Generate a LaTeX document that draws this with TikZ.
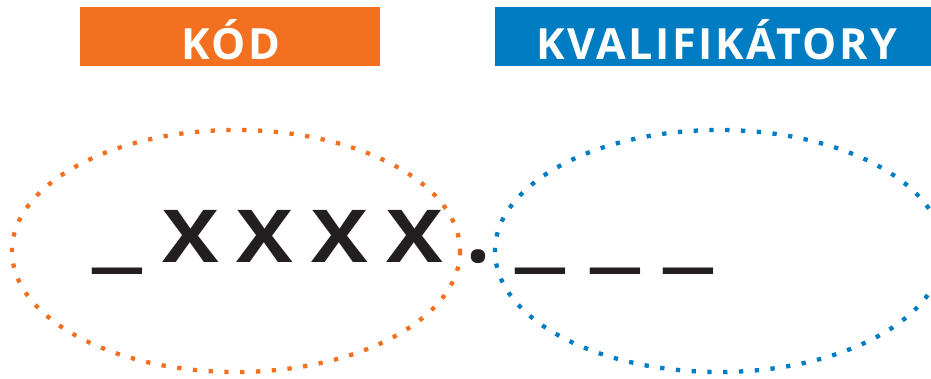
\documentclass[tikz,border=0pt]{standalone}
\usepackage{fontspec}
\setmainfont{Open Sans}
\newfontfamily\headerfont[LetterSpace=6.0]{Open Sans}
\usepackage{graphicx}
\definecolor{kodorange}{RGB}{243,112,33}
\definecolor{kvalblue}{RGB}{0,124,194}
\definecolor{inkblack}{RGB}{35,31,32}
\tikzset{
  headertext/.style={text=white, font=\headerfont\bfseries\fontsize{43}{43}\selectfont, anchor=base, inner sep=0pt},
  ringdots/.style={line width=4.3pt, dash pattern=on 4.3pt off 11.5pt},
  glyph/.style={text=inkblack, font=\bfseries\fontsize{73}{73}\selectfont, inner sep=0pt},
  blank/.style={text=inkblack, font=\bfseries\fontsize{73}{73}\selectfont, inner sep=0pt, anchor=base},
}
\newcommand{\wideX}{\scalebox{1.16}[1]{X}}
\newcommand{\blankline}{\scalebox{1.66}[1.3]{\_}}
\begin{document}
\begin{tikzpicture}[x=1pt,y=-1pt]
\useasboundingbox (0,0) rectangle (931,379);
\begin{scope}
\clip (0,0) rectangle (931,379);
% header bars
\fill[kodorange] (80,7) rectangle (380,66);
\fill[kvalblue] (495,7) rectangle (937,66);
\node[headertext] (kod) at (230.5,60) {KÓD};
\node[headertext] (kval) at (717,60) {KVALIFIKÁTORY};
% dotted rings around the code and the qualifiers
\draw[ringdots, kodorange] (236,251) ellipse [x radius=224, y radius=121];
\draw[ringdots, kvalblue] (719,251) ellipse [x radius=224, y radius=121];
\end{scope}
% code pattern
\node[blank] (u0) at (117.5,259) {\blankline};
\node[glyph] (x1) at (190.5,236) {\wideX};
\node[glyph] (x2) at (265,236) {\wideX};
\node[glyph] (x3) at (339.5,236) {\wideX};
\node[glyph] (x4) at (414.5,236) {\wideX};
\node[blank] (dot) at (478,262) {\scalebox{1.15}{.}};
\node[blank] (q1) at (540.5,259) {\blankline};
\node[blank] (q2) at (615.5,259) {\blankline};
\node[blank] (q3) at (688.5,259) {\blankline};
\end{tikzpicture}
\end{document}
